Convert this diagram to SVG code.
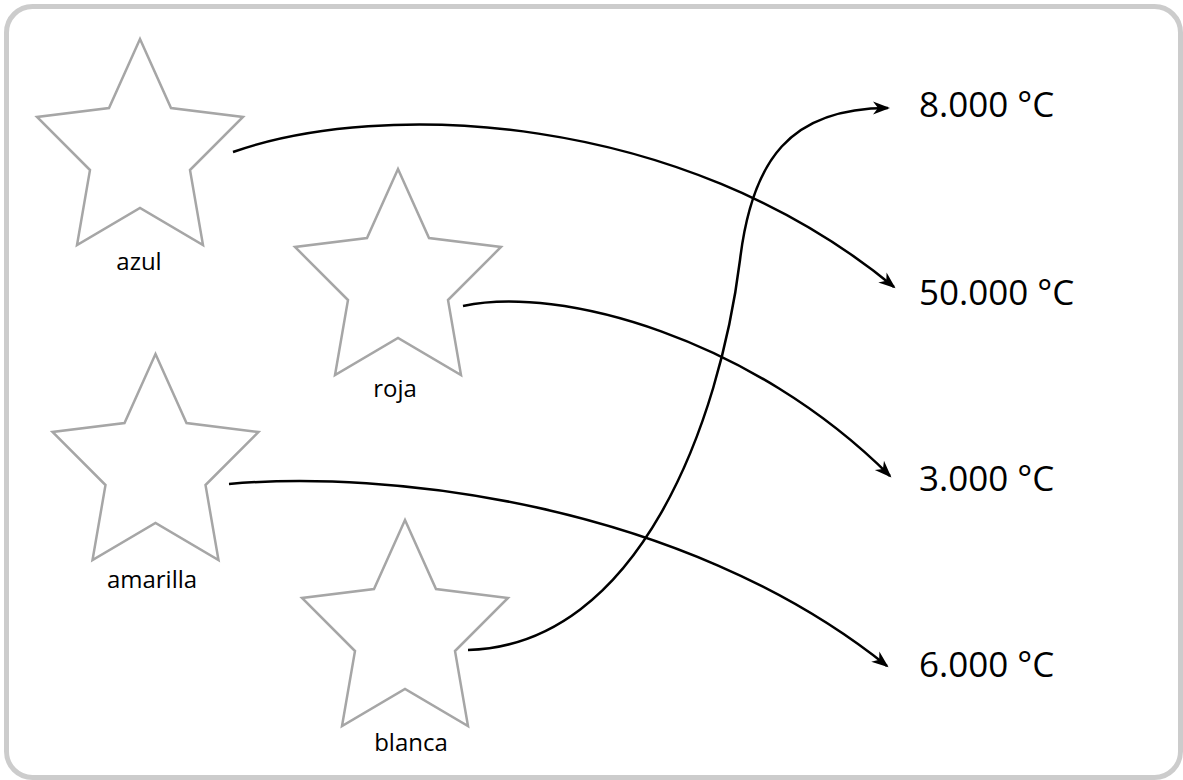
<svg xmlns="http://www.w3.org/2000/svg" xmlns:xlink="http://www.w3.org/1999/xlink" width="1183" height="780" viewBox="0 0 1183 780">
<style>
.frame{fill:#ffffff;stroke:#cccccc;stroke-width:5}
.star{fill:#ffffff;stroke:#a6a6a6;stroke-width:2.5;stroke-linejoin:miter}
.lbl{font-family:"Open Sans","Liberation Sans",sans-serif;font-size:24px;fill:#000000;text-anchor:middle}
.temp{font-family:"Open Sans","Liberation Sans",sans-serif;font-size:35px;fill:#000000}
.conn{fill:none;stroke:#000000;stroke-width:2.5}
</style>
<defs>
<polygon id="starShape" points="0,0 31,69 103,78 50,131 63,206 0,169 -63,206 -50,131 -103,78 -31,69"/>
<marker id="arrow" markerUnits="userSpaceOnUse" orient="auto" markerWidth="30" markerHeight="30" refX="0" refY="0" viewBox="-20 -10 30 20" overflow="visible">
<path d="M2,0 L-15,-6.5 L-10,0 L-15,6.5 z" fill="#000000"/>
</marker>
</defs>
<rect class="frame" x="6.5" y="6.5" width="1174" height="771" rx="26" ry="26"/>
<g id="node-azul">
<use xlink:href="#starShape" href="#starShape" class="star" x="140" y="39"/>
<text class="lbl" x="139" y="270">azul</text>
</g>
<g id="node-roja">
<use xlink:href="#starShape" href="#starShape" class="star" x="398" y="169"/>
<text class="lbl" x="395" y="397">roja</text>
</g>
<g id="node-amarilla">
<use xlink:href="#starShape" href="#starShape" class="star" x="155.5" y="354"/>
<text class="lbl" x="152" y="588">amarilla</text>
</g>
<g id="node-blanca">
<use xlink:href="#starShape" href="#starShape" class="star" x="405" y="520"/>
<text class="lbl" x="411" y="751">blanca</text>
</g>
<g id="node-8000"><text class="temp" x="919" y="117">8.000 °C</text></g>
<g id="node-50000"><text class="temp" x="919" y="305">50.000 °C</text></g>
<g id="node-3000"><text class="temp" x="919" y="491">3.000 °C</text></g>
<g id="node-6000"><text class="temp" x="919" y="677">6.000 °C</text></g>
<g id="connectors">
<path class="conn" marker-end="url(#arrow)" d="M233,152 C380,100 680,110 894,287"/>
<path class="conn" marker-end="url(#arrow)" d="M463,306 C560,285 752,338 890,476"/>
<path class="conn" marker-end="url(#arrow)" d="M229,484 C380,470 680,500 887,666"/>
<path class="conn" marker-end="url(#arrow)" d="M468,650 C640,645 720,420 740,260 C752,160 790,108 888,108"/>
</g>
</svg>
